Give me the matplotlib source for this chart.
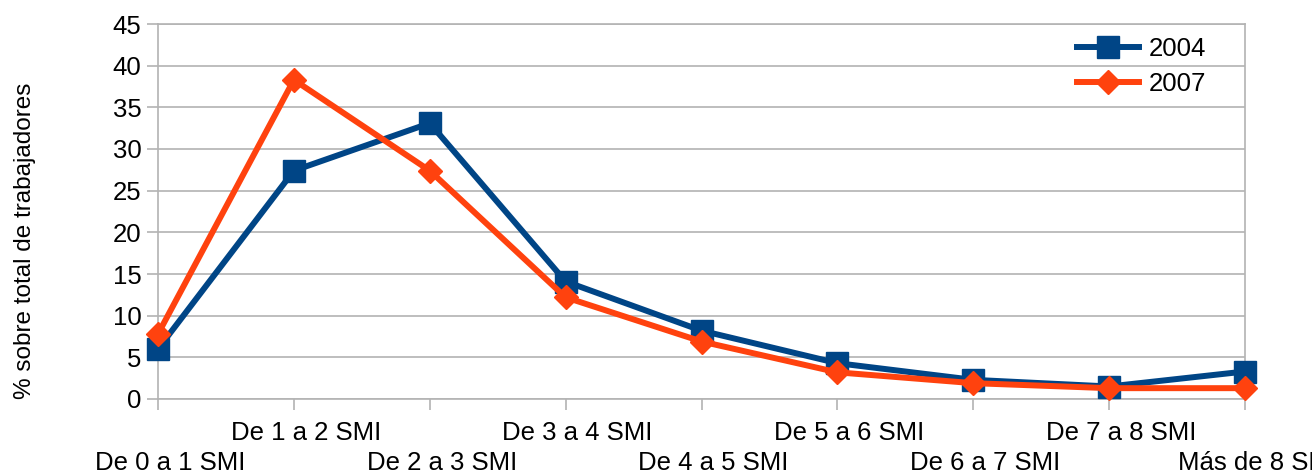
import matplotlib
matplotlib.use("Agg")
import matplotlib.pyplot as plt
import matplotlib.transforms as mtransforms

categories = ["De 0 a 1 SMI", "De 1 a 2 SMI", "De 2 a 3 SMI", "De 3 a 4 SMI",
              "De 4 a 5 SMI", "De 5 a 6 SMI", "De 6 a 7 SMI", "De 7 a 8 SMI",
              "Más de 8 SMI"]
series_2004 = [6.0, 27.4, 33.1, 14.1, 8.2, 4.3, 2.3, 1.5, 3.3]
series_2007 = [7.8, 38.3, 27.4, 12.2, 6.9, 3.2, 1.9, 1.3, 1.3]
yticks = [0, 5, 10, 15, 20, 25, 30, 35, 40, 45]

plt.rcParams['font.family'] = ['Liberation Sans', 'DejaVu Sans']
FS = 18.5

fig = plt.figure(figsize=(13.12, 4.74), dpi=100)
ax = fig.add_axes([158/1312, 1-399/474, (1245-158)/1312, (399-24)/474])

x = list(range(len(categories)))
grid_c = '#b3b3b3'
ax.plot(x, series_2004, color='#004586', lw=4.3, marker='s', ms=16,
        label='2004', zorder=3, clip_on=False)
ax.plot(x, series_2007, color='#ff420e', lw=4.3, marker='D', ms=12,
        label='2007', zorder=4, clip_on=False)

ax.set_xlim(0, len(categories)-1)
ax.set_ylim(0, 45)
ax.set_yticks(yticks)
ax.set_yticklabels([str(v) for v in yticks], fontsize=FS)
ax.yaxis.grid(True, color=grid_c, lw=1.2)
ax.set_axisbelow(True)

# staggered category labels: odd indices on upper row (major), even on lower row (minor)
upper = [i for i in x if i % 2 == 1]
lower = [i for i in x if i % 2 == 0]
ax.set_xticks(upper)
ax.set_xticklabels([categories[i] for i in upper], fontsize=FS)
ax.set_xticks(lower, minor=True)
ax.set_xticklabels([categories[i] for i in lower], minor=True, fontsize=FS)
ax.tick_params(axis='x', which='major', length=8, color=grid_c, width=1.2, pad=8)
ax.tick_params(axis='x', which='minor', length=8, color=grid_c, width=1.2, pad=29.5)
ax.tick_params(axis='y', length=8, color=grid_c, width=1.2, pad=4)

offset = mtransforms.ScaledTranslation(12/100, 0, fig.dpi_scale_trans)
for lab in ax.get_xticklabels() + ax.get_xticklabels(minor=True):
    lab.set_transform(lab.get_transform() + offset)

for s in ax.spines.values():
    s.set_color(grid_c)
    s.set_linewidth(1.2)

fig.text(25/1312, 1-241/474, "% sobre total de trabajadores", fontsize=17.5,
         rotation=90, ha='center', va='center')

leg = ax.legend(loc='upper left', bbox_to_anchor=(1064/1312, 1-24/474),
                bbox_transform=fig.transFigure, frameon=False, fontsize=FS,
                handlelength=2.4, handletextpad=0.4, labelspacing=0.45,
                borderpad=0)

fig.savefig("out.png", dpi=100)
